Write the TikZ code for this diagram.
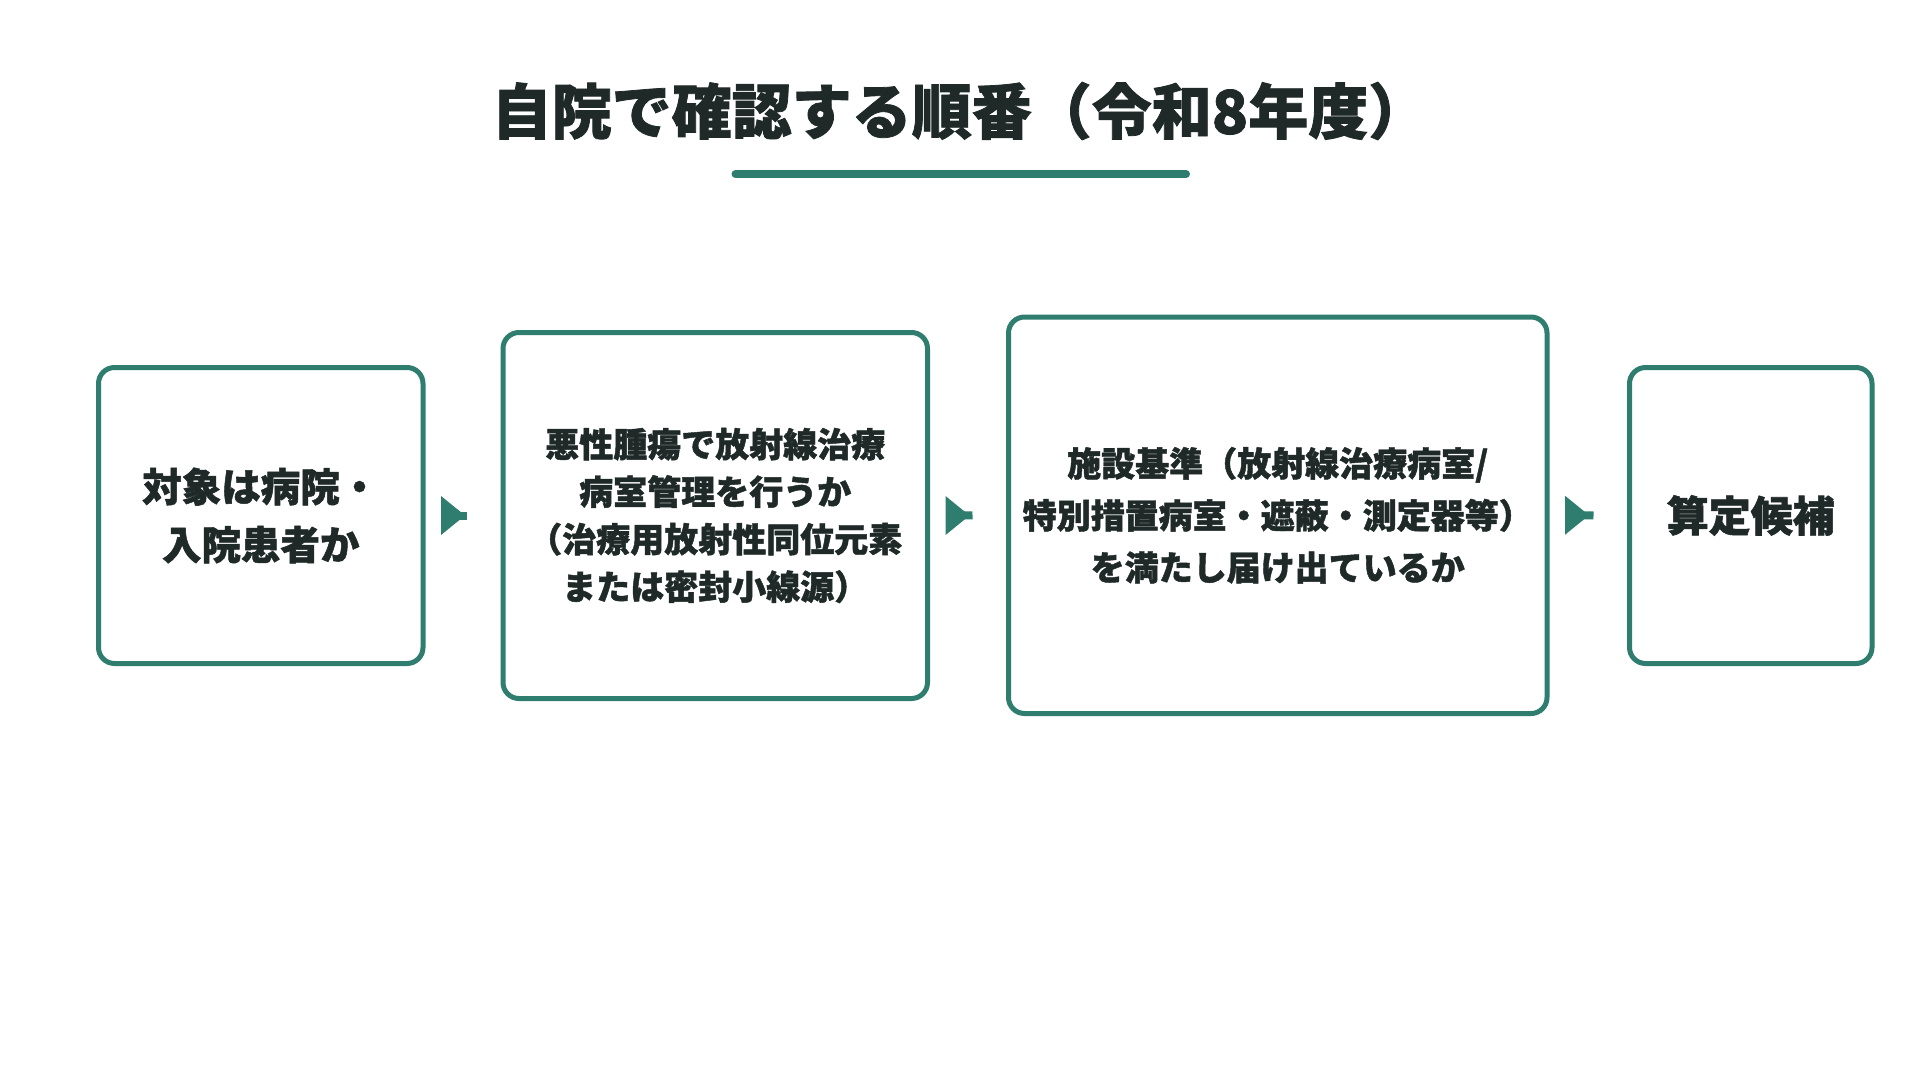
\documentclass[tikz,border=0pt]{standalone}
\usepackage{fontspec}
\setmainfont{Noto Sans CJK JP}[BoldFeatures={FakeBold=1.3}]
\usetikzlibrary{calc}
\definecolor{ink}{HTML}{1F2A28}
\definecolor{brandgreen}{HTML}{2E7D6E}
\begin{document}
\begin{tikzpicture}[x=1pt,y=-1pt,
  box/.style={draw=brandgreen, line width=5pt, rounded corners=16pt, fill=white,
    outer sep=0pt, inner sep=0pt, text=ink, align=center},
  titletext/.style={text=ink, inner sep=0pt, font=\bfseries\fontsize{60}{72}\selectfont},
  flowstub/.style={draw=brandgreen, line width=8pt},
  flowhead/.style={fill=brandgreen}]
\useasboundingbox[fill=white] (0,0) rectangle (1920,1080);

\node[titletext] (title) at (960,111) {自院で確認する順番（令和8年度）};
\draw[brandgreen, line width=8pt, line cap=round] (735.5,174) -- (1186,174);

\node[box, minimum width=324.5pt, minimum height=296pt,
  font=\bfseries\fontsize{39.5}{58}\selectfont] (b1) at (260.75,515.5)
  {対象は病院・\\入院患者か};
\node[box, minimum width=424.5pt, minimum height=366pt,
  font=\bfseries\fontsize{34}{47.5}\selectfont] (b2) at (715.25,515.5)
  {悪性腫瘍で放射線治療\\病室管理を行うか\\（治療用放射性同位元素\\または密封小線源）};
\node[box, minimum width=538.5pt, minimum height=396.5pt,
  font=\bfseries\fontsize{34}{52}\selectfont] (b3) at (1277.75,515.25)
  {施設基準（放射線治療病室/\\特別措置病室・遮蔽・測定器等）\\を満たし届け出ているか};
\node[box, minimum width=242.5pt, minimum height=296pt,
  font=\bfseries\fontsize{42}{52}\selectfont] (b4) at (1750.75,515.5)
  {算定候補};

\foreach \a/\b in {b1/b2, b2/b3, b3/b4}{
  \draw[flowstub] ($(\a.east)+(36,0)$) -- ($(\b.west)+(-36,0)$);
  \fill[flowhead] ($(\a.east)+(18,-19.5)$) -- ($(\a.east)+(42,0)$) -- ($(\a.east)+(18,19.5)$) -- cycle;
}
\end{tikzpicture}
\end{document}
